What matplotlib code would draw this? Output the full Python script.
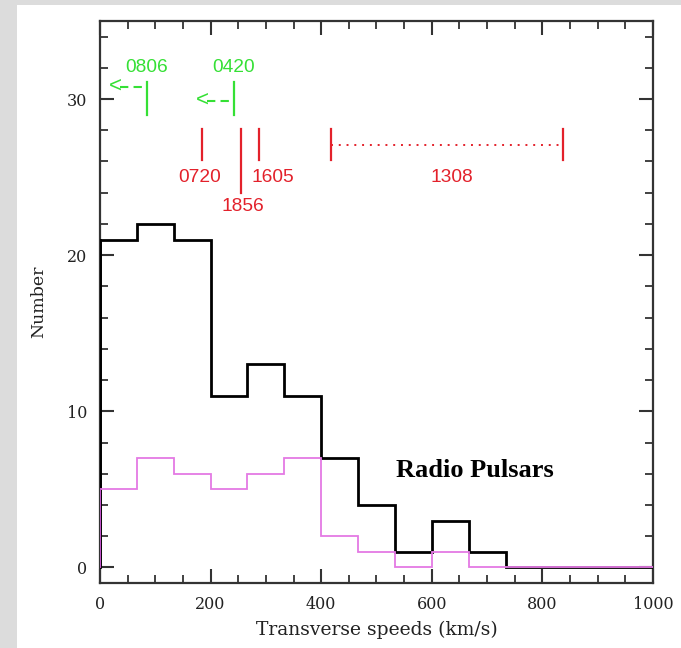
import numpy as np
import matplotlib.pyplot as plt
from matplotlib.patches import Rectangle
from matplotlib.ticker import MultipleLocator

# velocity histogram: 15 bins over 0-1000 km/s
bin_edges = np.linspace(0, 1000, 16)
all_counts = [21, 22, 21, 11, 13, 11, 7, 4, 1, 3, 1, 0, 0, 0, 0]
sub_counts = [5, 7, 6, 5, 6, 7, 2, 1, 0, 1, 0, 0, 0, 0, 0]

# individual objects marked above the histogram (speed in km/s)
red_names = ['0720', '1856', '1605']
red_speeds = [184, 255, 287]
red_tops = [28.1, 28.1, 28.1]
red_bottoms = [26.1, 24.0, 26.1]
red_label_x = [180, 259, 312]
red_label_y = [25.0, 23.1, 25.0]

range_name = '1308'
range_speeds = [418, 837]

# upper limits: vertical bar plus a dashed arrow pointing to lower speeds
upper_names = ['0806', '0420']
upper_speeds = [85, 242]
upper_arrow_y = [30.8, 29.9]
upper_arrow_tip = [17, 174]

fig = plt.figure(figsize=(6.81, 6.48), dpi=100)
fig.patch.set_facecolor('#dcdcdc')
fig.patches.append(Rectangle((17 / 681, 0), 1, 1 - 5 / 648, transform=fig.transFigure,
                             facecolor='white', edgecolor='none', zorder=-10))

ax = fig.add_axes([0.1468, 0.1003, 0.9589 - 0.1468, 0.9676 - 0.1003])
ax.set_facecolor('white')

ax.stairs(all_counts, bin_edges, color='black', linewidth=2.0, zorder=3)
ax.stairs(sub_counts, bin_edges, color='#e47ae4', linewidth=1.3, zorder=4)
ax.plot([0, 0], [0, all_counts[0]], color='black', linewidth=2.0, zorder=3)
ax.plot([0, 0], [0, sub_counts[0]], color='#c050c8', linewidth=1.5, zorder=4)

red = '#e3212b'
green = '#35e035'
lab_font = dict(family='Liberation Sans', fontsize=13.8, ha='center', va='center')

for name, v, t, b, lx, ly in zip(red_names, red_speeds, red_tops, red_bottoms,
                                red_label_x, red_label_y):
    ax.plot([v, v], [b, t], color=red, linewidth=1.6)
    ax.text(lx, ly, name, color=red, **lab_font)

for v in range_speeds:
    ax.plot([v, v], [26.1, 28.1], color=red, linewidth=1.6)
ax.plot(range_speeds, [27.05, 27.05], color=red, linewidth=1.4, linestyle=(0, (1, 3)))
ax.text(np.mean(range_speeds) + 9, 25.0, range_name, color=red, **lab_font)

for name, v, ay, tip in zip(upper_names, upper_speeds, upper_arrow_y, upper_arrow_tip):
    ax.plot([v, v], [29.0, 31.1], color=green, linewidth=1.6)
    ax.text(v, 32.05, name, color=green, **lab_font)
    ax.text(tip, ay, '<', color=green, family='Liberation Sans', fontsize=16,
            ha='left', va='center')
    ax.plot([tip + 20, v], [ay, ay], color=green, linewidth=1.5,
            linestyle=(0, (4, 2.5)))

ax.text(678, 6.2, 'Radio Pulsars', family='Liberation Serif', fontweight='bold',
        fontsize=19, ha='center', va='center')

ax.set_xlim(0, 1000)
ax.set_ylim(-1, 35)
ax.xaxis.set_major_locator(MultipleLocator(200))
ax.xaxis.set_minor_locator(MultipleLocator(50))
ax.yaxis.set_major_locator(MultipleLocator(10))
ax.yaxis.set_minor_locator(MultipleLocator(2))
ax.tick_params(which='both', direction='in', top=True, right=True, colors='#333333',
               labelcolor='#222222', labelsize=11.5)
ax.tick_params(which='major', length=10, width=1.5, pad=9)
ax.tick_params(which='minor', length=6, width=1.3)
for lab in ax.get_xticklabels() + ax.get_yticklabels():
    lab.set_family('DejaVu Serif')
for s in ax.spines.values():
    s.set_color('#333333')
    s.set_linewidth(1.6)

ax.set_xlabel('Transverse speeds (km/s)', family='DejaVu Serif', fontsize=13.5,
              color='#222222', labelpad=6)
ax.set_ylabel('Number', family='DejaVu Serif', fontsize=12.5, color='#222222',
              labelpad=14)

fig.savefig('out.png', dpi=100, facecolor=fig.get_facecolor())
